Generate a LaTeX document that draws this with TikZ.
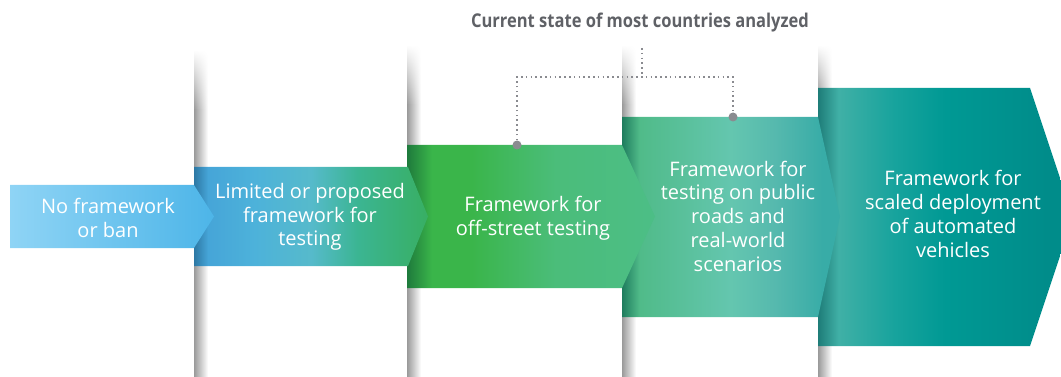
\documentclass[tikz,border=0pt]{standalone}
\usepackage{fontspec}
\setmainfont{Open Sans}
\newfontfamily\titlefont[FakeStretch=0.87]{Open Sans}
\usepackage{tikz}
\usetikzlibrary{fadings}

\definecolor{titlegray}{HTML}{5F6166}
\definecolor{dotgray}{HTML}{8A8B90}
\definecolor{shadowgray}{HTML}{9A9A9A}
\definecolor{blueA}{HTML}{8FD4F5}
\definecolor{blueB}{HTML}{4DB5E8}
\definecolor{blueDark}{HTML}{2D78A4}
\definecolor{blueC}{HTML}{46A5D8}
\definecolor{blueD}{HTML}{4DB2DA}
\definecolor{tealA}{HTML}{56BACB}
\definecolor{greenA}{HTML}{3BB592}
\definecolor{greenB}{HTML}{38AF63}
\definecolor{greenDark}{HTML}{1E7A3C}
\definecolor{greenC}{HTML}{3AB54A}
\definecolor{greenD}{HTML}{4BBD7A}
\definecolor{greenE}{HTML}{4CBE86}
\definecolor{mintDark}{HTML}{1F7C5E}
\definecolor{mintA}{HTML}{50BB89}
\definecolor{mintB}{HTML}{64C6AF}
\definecolor{mintC}{HTML}{56B9AE}
\definecolor{mintD}{HTML}{38ACA7}
\definecolor{petrolDark}{HTML}{1E7C78}
\definecolor{petrolA}{HTML}{40B0A6}
\definecolor{petrolB}{HTML}{17A39D}
\definecolor{petrolC}{HTML}{009994}
\definecolor{petrolD}{HTML}{008C8A}

\pgfdeclarehorizontalshading{stageone}{100bp}{color(0bp)=(blueA); color(25bp)=(blueA); color(75bp)=(blueB); color(100bp)=(blueB)}
\pgfdeclarehorizontalshading{stagetwo}{100bp}{color(0bp)=(blueDark); color(25bp)=(blueDark); color(28bp)=(blueC); color(38bp)=(blueD); color(50bp)=(tealA); color(60bp)=(greenA); color(75bp)=(greenB); color(100bp)=(greenB)}
\pgfdeclarehorizontalshading{stagethree}{100bp}{color(0bp)=(greenDark); color(25bp)=(greenDark); color(30bp)=(greenC); color(38bp)=(greenC); color(55bp)=(greenD); color(75bp)=(greenE); color(100bp)=(greenE)}
\pgfdeclarehorizontalshading{stagefour}{100bp}{color(0bp)=(mintDark); color(25bp)=(mintDark); color(29bp)=(mintA); color(50bp)=(mintB); color(60bp)=(mintC); color(71bp)=(mintD); color(100bp)=(mintD)}
\pgfdeclarehorizontalshading{stagefive}{100bp}{color(0bp)=(petrolDark); color(25bp)=(petrolDark); color(29bp)=(petrolA); color(40bp)=(petrolB); color(50bp)=(petrolC); color(70bp)=(petrolD); color(100bp)=(petrolD)}

\begin{document}
\begin{tikzpicture}[x=1pt,y=-1pt,
    stagetext/.style={text=white, align=center, inner sep=0pt, font=\fontsize{20}{23.75}\selectfont},
    panelshadow/.style={left color=shadowgray, right color=white},
    bracket/.style={dotgray, line width=1.6pt, dash pattern=on 1.6pt off 3.2pt}]
    \useasboundingbox (0,0) rectangle (1061,377);
    \clip (0,0) rectangle (1061,377);
    % shadows of the white panels
    \shade [panelshadow, path fading=north] (194,50) rectangle (208,110);
    \shade [panelshadow] (194,110) rectangle (208,377);
    \shade [panelshadow, path fading=north] (407,45) rectangle (421,105);
    \shade [panelshadow] (407,105) rectangle (421,377);
    \shade [panelshadow, path fading=north] (622,45) rectangle (636,105);
    \shade [panelshadow] (622,105) rectangle (636,377);
    \shade [panelshadow, path fading=north] (818,45) rectangle (832,100);
    \shade [panelshadow] (818,100) rectangle (832,377);
    % stages, from right to left
    \shade [shading=stagefive] (818,88) -- (1030,88) -- (1073,217) -- (1030,346) -- (818,346) -- cycle;
    \shade [shading=stagefour] (622,117) -- (818,117) -- (840,216.5) -- (818,317) -- (622,317) -- cycle;
    \shade [shading=stagethree] (407,145) -- (622,145) -- (655,216.5) -- (622,288) -- (407,288) -- cycle;
    \shade [shading=stagetwo] (194,167) -- (408,167) -- (428,216.5) -- (408,266) -- (194,266) -- cycle;
    \shade [shading=stageone] (10,185) -- (194,185) -- (214,216.5) -- (194,248) -- (10,248) -- cycle;
    \node [stagetext] (none) at (108,218) {No framework\\or ban};
    \node [stagetext] (limited) at (310,217) {Limited or proposed\\framework for\\testing};
    \node [stagetext] (offstreet) at (533,218) {Framework for\\off-street testing};
    \node [stagetext] (public) at (738,216) {Framework for\\testing on public\\roads and\\real-world\\scenarios};
    \node [stagetext] (scaled) at (953,214) {Framework for\\scaled deployment\\of automated\\vehicles};
    % current state bracket
    \node [text=titlegray, font=\titlefont\bfseries\fontsize{19}{22}\selectfont] (current) at (640,23) {Current state of most countries analyzed};
    \coordinate (top) at (642,48);
    \coordinate (mid) at (642,77);
    \coordinate (left) at (517,77);
    \coordinate (right) at (733,77);
    \coordinate (dotthree) at (517,145);
    \coordinate (dotfour) at (733,117);
    \draw [bracket] (top) -- (mid);
    \draw [bracket] (dotthree) -- (left) -- (right) -- (dotfour);
    \fill [dotgray] (dotthree) circle (4.5);
    \fill [dotgray] (dotfour) circle (4.5);
\end{tikzpicture}
\end{document}
